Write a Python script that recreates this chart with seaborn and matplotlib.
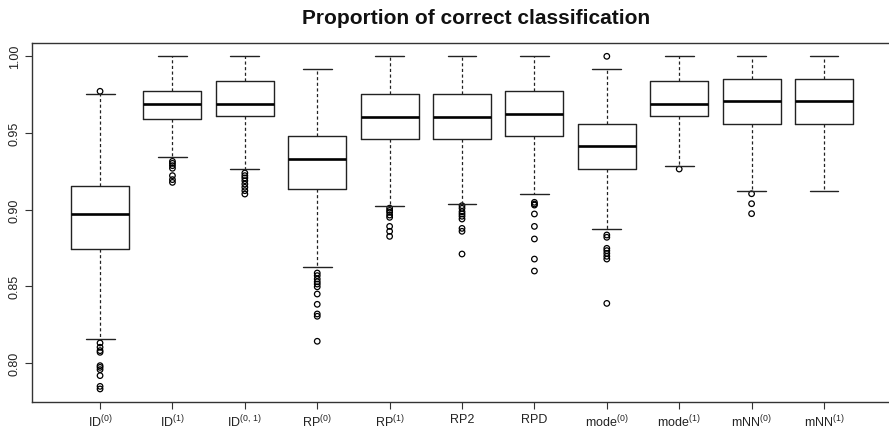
import matplotlib
matplotlib.use("Agg")
import matplotlib.pyplot as plt
import seaborn as sns
import pandas as pd

# ---- data ----
categories = [r"ID$^{(0)}$", r"ID$^{(1)}$", r"ID$^{(0,\,1)}$", r"RP$^{(0)}$", r"RP$^{(1)}$",
              "RP2", "RPD", r"mode$^{(0)}$", r"mode$^{(1)}$", r"mNN$^{(0)}$", r"mNN$^{(1)}$"]
medians  = [0.8972, 0.9689, 0.9689, 0.9330, 0.9606, 0.9606, 0.9624, 0.9413, 0.9689, 0.9711, 0.9711]
q1       = [0.8744, 0.9591, 0.9609, 0.9135, 0.9461, 0.9461, 0.9478, 0.9265, 0.9609, 0.9559, 0.9559]
q3       = [0.9152, 0.9772, 0.9837, 0.9478, 0.9754, 0.9754, 0.9772, 0.9559, 0.9837, 0.9852, 0.9852]
whis_lo  = [0.8157, 0.9346, 0.9265, 0.8628, 0.9022, 0.9037, 0.9104, 0.8874, 0.9283, 0.9120, 0.9120]
whis_hi  = [0.9754, 1.0000, 1.0000, 0.9917, 1.0000, 1.0000, 1.0000, 0.9917, 1.0000, 1.0000, 1.0000]
outliers = [
    [0.9772, 0.8131, 0.8103, 0.8081, 0.8070, 0.7983, 0.7972, 0.7957, 0.7918, 0.7848, 0.7831],
    [0.9315, 0.9302, 0.9287, 0.9270, 0.9222, 0.9196, 0.9178],
    [0.9239, 0.9222, 0.9207, 0.9189, 0.9167, 0.9146, 0.9124, 0.9102],
    [0.8587, 0.8570, 0.8548, 0.8530, 0.8515, 0.8497, 0.8450, 0.8383, 0.8320, 0.8305, 0.8142],
    [0.9010, 0.8995, 0.8983, 0.8965, 0.8950, 0.8891, 0.8859, 0.8826],
    [0.9026, 0.9009, 0.8987, 0.8972, 0.8957, 0.8939, 0.8878, 0.8859, 0.8711],
    [0.9048, 0.9037, 0.9030, 0.8972, 0.8891, 0.8809, 0.8678, 0.8600],
    [1.0000, 0.8835, 0.8820, 0.8748, 0.8733, 0.8715, 0.8696, 0.8678, 0.8389],
    [0.9265],
    [0.9104, 0.9039, 0.8974],
    [],
]
title = "Proportion of correct classification"
yticks = [0.80, 0.85, 0.90, 0.95, 1.00]

# ---- style ----
sns.set_theme(style="ticks")
plt.rcParams["font.family"] = ["Liberation Sans", "DejaVu Sans"]
plt.rcParams["mathtext.fontset"] = "custom"
plt.rcParams["mathtext.rm"] = "Liberation Sans"
plt.rcParams["mathtext.it"] = "Liberation Sans"
plt.rcParams["mathtext.default"] = "regular"

fig = plt.figure(figsize=(8.89, 4.31), dpi=100)
ax = fig.add_axes([32 / 889, (431 - 402.7) / 431, (900 - 32) / 889, (402.7 - 44) / 431])

stats = []
for i in range(len(categories)):
    stats.append(dict(med=medians[i], q1=q1[i], q3=q3[i],
                      whislo=whis_lo[i], whishi=whis_hi[i], fliers=[]))
ax.bxp(stats, positions=list(range(len(categories))), widths=0.8, capwidths=0.4,
       showfliers=False, patch_artist=False,
       boxprops=dict(color="#222222", linewidth=1.0),
       whiskerprops=dict(color="#222222", linewidth=0.9, linestyle=(0, (2.5, 2))),
       capprops=dict(color="#222222", linewidth=1.0),
       medianprops=dict(color="black", linewidth=1.9))

# outliers via seaborn
ox, oy = [], []
for i, vals in enumerate(outliers):
    for v in vals:
        ox.append(i)
        oy.append(v)
df = pd.DataFrame({"pos": ox, "value": oy})
sns.scatterplot(data=df, x="pos", y="value", ax=ax, marker="o", s=16,
                facecolors="none", edgecolor="black", linewidth=0.9, legend=False)

ax.set_xlim(-0.94, 11.05)
ax.set_ylim(0.7748, 1.00868)
ax.set_xticks(list(range(len(categories))))
ax.set_xticklabels(categories, fontsize=9)
ax.set_yticks(yticks)
ax.set_yticklabels([f"{t:.2f}" for t in yticks], fontsize=9, rotation=90, va="center")
ax.set_xlabel("")
ax.set_ylabel("")
ax.tick_params(axis="both", direction="out", length=5, width=0.8, color="#333333",
               labelcolor="#222222", pad=3)
for side in ["left", "top", "bottom"]:
    ax.spines[side].set_color("#333333")
    ax.spines[side].set_linewidth(1.0)
ax.spines["right"].set_visible(False)

fig.text(476 / 889, 1 - 18 / 431, title, ha="center", va="center",
         fontsize=15, fontweight="bold", color="#111111")

fig.savefig("out.png", dpi=100)
